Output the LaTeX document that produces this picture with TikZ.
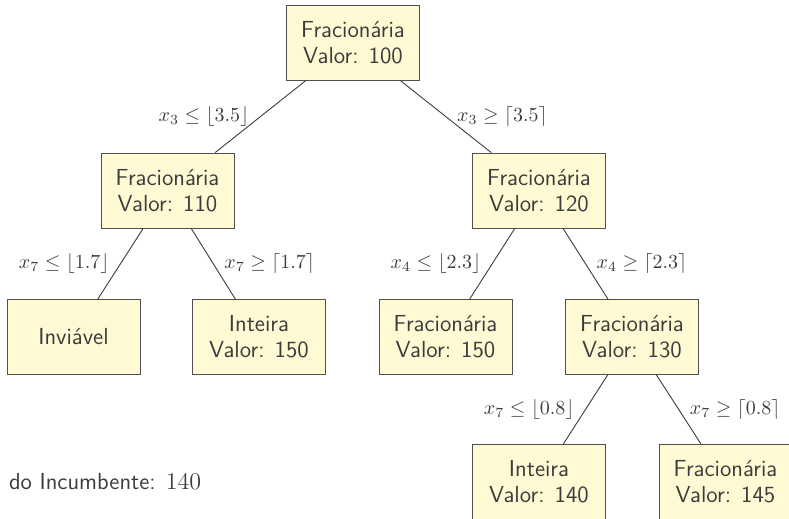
\documentclass[tikz,border=0pt]{standalone}
\usepackage{amsmath,amssymb}
\usepackage{xcolor}
\usepackage{tikz}
\usetikzlibrary{positioning}
\definecolor{boxfill}{RGB}{255,249,212}
\definecolor{ink}{RGB}{60,60,60}

\begin{document}
\begin{tikzpicture}[
    x=0.5pt, y=-0.5pt,
    font=\fontsize{11.6}{13}\selectfont\sffamily,
    text=ink,
    box/.style={draw=ink!90, fill=boxfill, align=center, minimum width=66.5pt, minimum height=37.5pt, inner sep=3pt},
    cut/.style={font=\fontsize{10}{12}\selectfont, text=ink, inner sep=0.3333em},
    branch/.style={draw=ink, line width=0.45pt}
]
\clip (0,0) rectangle (789,519);
\node[box] (root) at (353,43) {Fracionária\\Valor: 100};
\node[box] (a) at (167.5,190.5) {Fracionária\\Valor: 110};
\node[box] (b) at (539,190.5) {Fracionária\\Valor: 120};
\node[box] (a1) at (73.5,337) {Inviável};
\node[box] (a2) at (259,337) {Inteira\\Valor: 150};
\node[box] (b1) at (445.5,337) {Fracionária\\Valor: 150};
\node[box] (b2) at (632,337) {Fracionária\\Valor: 130};
\node[box] (b2a) at (539,482) {Inteira\\Valor: 140};
\node[box] (b2b) at (725.5,482) {Fracionária\\Valor: 145};
\node[anchor=west] (incumb) at (2,482) {do Incumbente: $140$};
\draw[branch] (root) -- node[cut, midway, left=2pt] {$x_3 \leq \lfloor 3.5 \rfloor$} (a);
\draw[branch] (root) -- node[cut, midway, right=2pt] {$x_3 \geq \lceil 3.5 \rceil$} (b);
\draw[branch] (a) -- node[cut, midway, left=2pt] {$x_7 \leq \lfloor 1.7 \rfloor$} (a1);
\draw[branch] (a) -- node[cut, midway, right=2pt] {$x_7 \geq \lceil 1.7 \rceil$} (a2);
\draw[branch] (b) -- node[cut, midway, left=2pt] {$x_4 \leq \lfloor 2.3 \rfloor$} (b1);
\draw[branch] (b) -- node[cut, midway, right=2pt] {$x_4 \geq \lceil 2.3 \rceil$} (b2);
\draw[branch] (b2) -- node[cut, midway, left=2pt] {$x_7 \leq \lfloor 0.8 \rfloor$} (b2a);
\draw[branch] (b2) -- node[cut, midway, right=2pt] {$x_7 \geq \lceil 0.8 \rceil$} (b2b);
\end{tikzpicture}
\end{document}
